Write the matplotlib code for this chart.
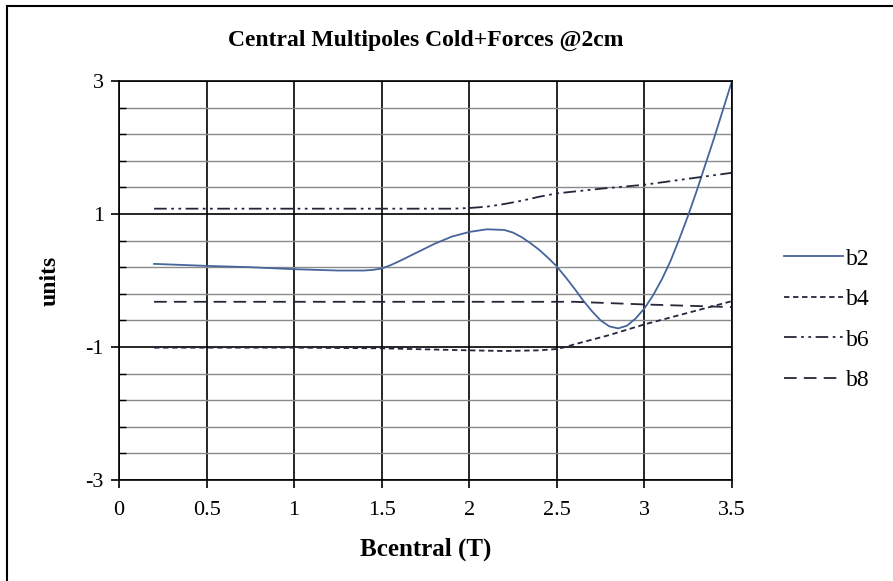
import numpy as np
import matplotlib.pyplot as plt
from matplotlib.ticker import FixedLocator
from matplotlib.lines import Line2D

plt.rcParams['font.family'] = ['Liberation Serif', 'DejaVu Serif']

# Central field (T) and multipoles (units) for each harmonic
x_b2 = [0.2, 0.5, 0.75, 1.0, 1.25, 1.4, 1.45, 1.5, 1.55, 1.6, 1.7, 1.8, 1.9, 2.0, 2.1, 2.2,
        2.25, 2.3, 2.35, 2.4, 2.45, 2.5, 2.55, 2.6, 2.65, 2.7, 2.75, 2.8, 2.85, 2.9, 2.95,
        3.0, 3.05, 3.1, 3.15, 3.2, 3.25, 3.3, 3.35, 3.4, 3.45, 3.5]
b2 = [0.25, 0.22, 0.20, 0.17, 0.15, 0.15, 0.16, 0.18, 0.23, 0.29, 0.42, 0.55, 0.66, 0.73, 0.77, 0.76,
      0.72, 0.65, 0.56, 0.46, 0.34, 0.21, 0.05, -0.12, -0.30, -0.46, -0.60, -0.69, -0.72, -0.68, -0.57,
      -0.42, -0.22, 0.02, 0.30, 0.63, 0.98, 1.36, 1.76, 2.16, 2.58, 3.0]

x_b4 = [0.2, 1.0, 1.5, 2.0, 2.2, 2.4, 2.5, 2.55, 2.6, 2.7, 2.8, 2.9, 3.0, 3.1, 3.2, 3.3, 3.4, 3.5]
b4 = [-1.01, -1.01, -1.02, -1.05, -1.06, -1.05, -1.03, -1.0, -0.96, -0.89, -0.82, -0.74, -0.66,
      -0.59, -0.52, -0.45, -0.38, -0.31]

x_b6 = [0.2, 1.0, 1.5, 1.9, 2.0, 2.1, 2.2, 2.3, 2.4, 2.5, 2.75, 3.0, 3.25, 3.5]
b6 = [1.08, 1.08, 1.08, 1.08, 1.09, 1.11, 1.15, 1.20, 1.26, 1.31, 1.38, 1.44, 1.53, 1.62]

x_b8 = [0.2, 1.0, 2.0, 2.6, 2.8, 3.0, 3.25, 3.5]
b8 = [-0.32, -0.32, -0.32, -0.32, -0.34, -0.36, -0.38, -0.40]

series = [('b2', x_b2, b2, '-', '#46659a'),
          ('b4', x_b4, b4, (0, (3, 2)), '#23273a'),
          ('b6', x_b6, b6, (0, (7, 2.5, 1.5, 2.5, 1.5, 2.5)), '#23273a'),
          ('b8', x_b8, b8, (0, (7, 4)), '#23273a')]

fig = plt.figure(figsize=(8.93, 5.81), dpi=100)
ax = fig.add_axes([0.1333, 0.1738, 0.6864, 0.6868])

for name, xs, vals, ls, col in series:
    ax.plot(xs, vals, linestyle=ls, color=col, lw=1.3, label=name)

ax.set_xlim(0, 3.5)
ax.set_ylim(-3, 3)
ax.set_xticks(np.arange(0, 3.51, 0.5))
ax.set_xticklabels(['0', '0.5', '1', '1.5', '2', '2.5', '3', '3.5'])
ax.set_yticks([-3, -1, 1, 3])
ax.set_yticklabels(['-3', '-1', '1', '3'])
ax.yaxis.set_minor_locator(FixedLocator(np.arange(-3, 3.01, 0.4)))

ax.grid(which='major', color='black', lw=1.2)
ax.grid(which='minor', axis='y', color='#8a8a8a', lw=1.0)
ax.set_axisbelow(True)
for sp in ax.spines.values():
    sp.set_color('black')
    sp.set_linewidth(1.2)
ax.tick_params(which='major', direction='out', length=6, width=1.2, labelsize=16, pad=5)
ax.tick_params(axis='x', which='major', pad=9)
ax.tick_params(which='minor', direction='in', length=5, width=1.0)

ax.set_xlabel('Bcentral (T)', fontsize=18, fontweight='bold', labelpad=13)
ax.set_ylabel('units', fontsize=17, fontweight='bold', labelpad=18)
ax.set_title('Central Multipoles Cold+Forces @2cm', fontsize=17, fontweight='bold', pad=25)

handles = [Line2D([], [], linestyle=ls, color=col, lw=1.3) for _, _, _, ls, col in series]
fig.legend(handles, [s[0] for s in series], loc='center left', bbox_to_anchor=(0.854, 0.45),
           frameon=False, fontsize=17, handlelength=2.5, handletextpad=0.15, labelspacing=0.8)

# outer chart frame
fig.add_artist(Line2D([0.008, 1.0], [0.99, 0.99], color='black', lw=1.5))
fig.add_artist(Line2D([0.008, 0.008], [0.0, 0.99], color='black', lw=1.5))

fig.savefig('out.png', dpi=100)
